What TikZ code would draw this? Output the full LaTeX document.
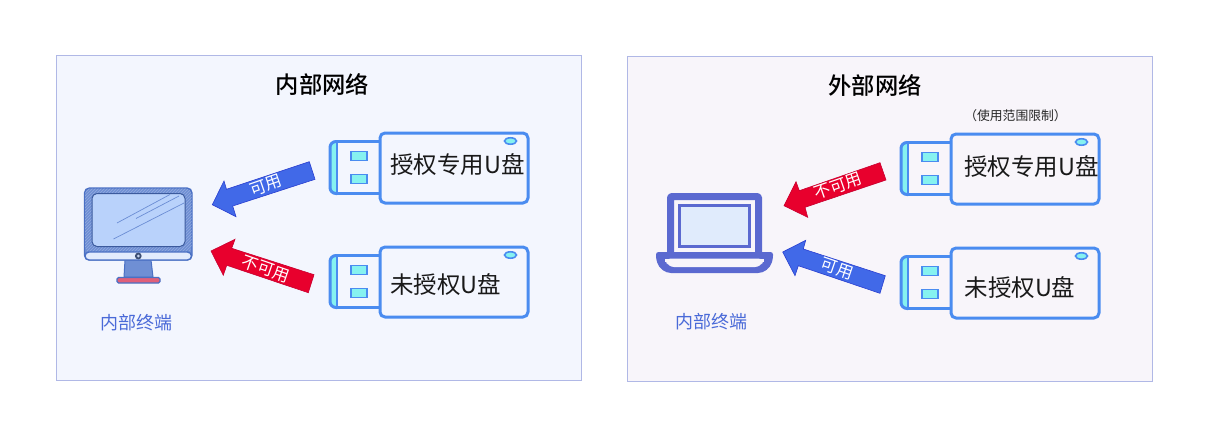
\documentclass[tikz,border=0pt]{standalone}
\usepackage{fontspec}
\usetikzlibrary{patterns}
\setmainfont[BoldFont={Noto Sans CJK SC Medium}]{Noto Sans CJK SC}
\definecolor{panelL}{HTML}{F3F6FE}
\definecolor{panelR}{HTML}{F8F5FA}
\definecolor{panelE}{HTML}{B0B8E6}
\definecolor{usbline}{HTML}{4A8CF0}
\definecolor{usbfill}{HTML}{86F2F0}
\definecolor{arrblue}{HTML}{4169E8}
\definecolor{arrblueE}{HTML}{2A3FD0}
\definecolor{arrred}{HTML}{E8002D}
\definecolor{arrredE}{HTML}{C80030}
\definecolor{termtext}{HTML}{4A6AD8}
\definecolor{lap}{HTML}{5B69D0}
\definecolor{lapscr}{HTML}{E0EBFC}
\definecolor{mon}{HTML}{6F8FD4}
\definecolor{monE}{HTML}{4A70C4}
\definecolor{monscr}{HTML}{B9D2FB}
\definecolor{monfoot}{HTML}{E0607A}
\tikzset{
 x=1pt,y=-1pt,
 panel/.style={draw=panelE,line width=0.8pt},
 title/.style={font=\fontsize{23.3}{24}\selectfont\bfseries,text=black,inner sep=0pt},
 usblabel/.style={font=\fontsize{23.5}{24}\selectfont,text=black!90,inner sep=0pt},
 arrlabel/.style={font=\fontsize{16.5}{17}\selectfont,text=white,inner sep=0pt},
 term/.style={font=\fontsize{18}{18}\selectfont,text=termtext,inner sep=0pt},
 usbpart/.style={draw=usbline,line width=3pt,line join=round},
 usbpad/.style={draw=usbline,fill=usbfill,line width=1.6pt},
 blueh/.style={fill=arrblue,draw=arrblueE,line width=0.6pt},
 redh/.style={fill=arrred,draw=arrredE,line width=0.6pt},
}
\newcommand{\usbdrive}[3]{%
 \begin{scope}[shift={(#1,#2)}]
  \draw[usbpart,fill=usbfill,rounded corners=6pt] (337,141.5) -- (330,141.5) -- (330,193.5) -- (337,193.5);
  \fill[#3] (337,140) rectangle (380,195);
  \draw[usbpart] (380,141.5) -- (337,141.5);
  \draw[usbpart] (380,193.5) -- (337,193.5);
  \draw[draw=usbline,line width=1.6pt] (337,141.5) -- (337,193.5);
  \draw[usbpad] (351,151.5) rectangle (367,160.5);
  \draw[usbpad] (351,174.5) rectangle (367,183.5);
  \draw[usbpart,fill=#3,rounded corners=5pt] (380,133) rectangle (528,203);
  \draw[usbpad] (510.5,141) ellipse[x radius=6,y radius=3.2];
 \end{scope}}
\begin{document}
\begin{tikzpicture}
\useasboundingbox (0,0) rectangle (1208,428);
\fill[white] (0,0) rectangle (1208,428);
% panels
\draw[panel,fill=panelL] (56.5,55.5) rectangle (581.5,380.5);
\draw[panel,fill=panelR] (627.5,56.5) rectangle (1152.5,381.5);
\node[title] (titleL) at (322.5,85) {内部网络};
\node[title] (titleR) at (875,85) {外部网络};
\node[font=\fontsize{12.8}{13}\selectfont,text=black!85,inner sep=0pt] (note) at (1015.5,116) {（使用范围限制）};
% USB drives
\usbdrive{0}{0}{panelL}
\usbdrive{0}{114}{panelL}
\usbdrive{571}{1}{panelR}
\usbdrive{571}{115}{panelR}
\node[usblabel] (u1) at (457.5,165) {授权专用U盘};
\node[usblabel] (u2) at (445.5,285) {未授权U盘};
\node[usblabel] (u3) at (1031.5,167) {授权专用U盘};
\node[usblabel] (u4) at (1020,288) {未授权U盘};
% block arrows
\draw[blueh,line join=miter] (309.3,161.7) -- (315,179.3) -- (232.7,206) -- (236,216.7) -- (212.3,204.7) -- (224,181) -- (226.5,189.3) -- cycle;
\draw[redh,line join=miter] (314,274.7) -- (308.3,292.7) -- (226.7,265.3) -- (223.3,275.3) -- (211,251) -- (235,239.3) -- (231.7,248.3) -- cycle;
\draw[redh,line join=miter] (880,162.7) -- (886,180) -- (805,207.3) -- (807.7,217.3) -- (784,205.7) -- (796,181.7) -- (799.3,190.7) -- cycle;
\draw[blueh,line join=miter] (885.3,275.7) -- (880,293.3) -- (798.3,265.7) -- (795,275.7) -- (782.7,252) -- (805.7,240.3) -- (803.3,249) -- cycle;
\node[arrlabel,rotate=19] (a1) at (266,185.5) {可用};
\node[arrlabel,rotate=-19] (a2) at (266,269) {不可用};
\node[arrlabel,rotate=19] (a3) at (838,186) {不可用};
\node[arrlabel,rotate=-19] (a4) at (837,269) {可用};
% monitor
\draw[monE,fill=mon,line width=1pt] (125,260) -- (151,260) -- (153,277) -- (124,277) -- cycle;
\draw[monE,fill=monfoot,line width=1.2pt,rounded corners=1.5pt] (117,277.5) rectangle (160,283);
\draw[monE,fill=mon,line width=1.4pt,rounded corners=5pt] (84.5,188) rectangle (192,260);
\fill[pattern=north east lines,pattern color=mon!75!white,rounded corners=5pt] (85,188.5) rectangle (191.5,252);
\draw[monE,fill=panelL!70!monscr,line width=1.4pt,rounded corners=4pt] (85,252) -- (85,260) -- (191.5,260) -- (191.5,252) -- cycle;
\draw[monE!80!black,fill=monscr,line width=1pt,rounded corners=5pt] (92,193.5) rectangle (185,246.5);
\fill[black!45!mon] (138.3,256) circle[radius=3.4];
\fill[mon!40!white] (138.3,256) circle[radius=1.5];
\begin{scope}[draw=monE!70!monscr,line width=0.7pt]
 \draw (117,223) -- (170,194.5);
 \draw (136,218.5) -- (179,196);
 \draw (113.5,239) -- (184,203);
\end{scope}
\node[term] (t1) at (136,323) {内部终端};
% laptop
\draw[lap,line width=7pt,line join=round,rounded corners=1pt] (670.5,255) -- (670.5,196.5) -- (758.5,196.5) -- (758.5,255);
\draw[lap,fill=lapscr,line width=3pt] (679.5,205.5) rectangle (749.5,246.5);
\fill[lap,rounded corners=2.5pt] (656,252) -- (773,252) -- (773,258) [rounded corners=11pt] -- (769,273) -- (660,273) [rounded corners=2.5pt] -- (656,258) -- cycle;
\fill[panelR,rounded corners=6pt] (665,258.5) -- (764,258.5) -- (761,267) -- (668,267) -- cycle;
\fill[panelR] (665,258.5) rectangle (764,261.5);
\node[term] (t2) at (711,322) {内部终端};
\end{tikzpicture}
\end{document}
